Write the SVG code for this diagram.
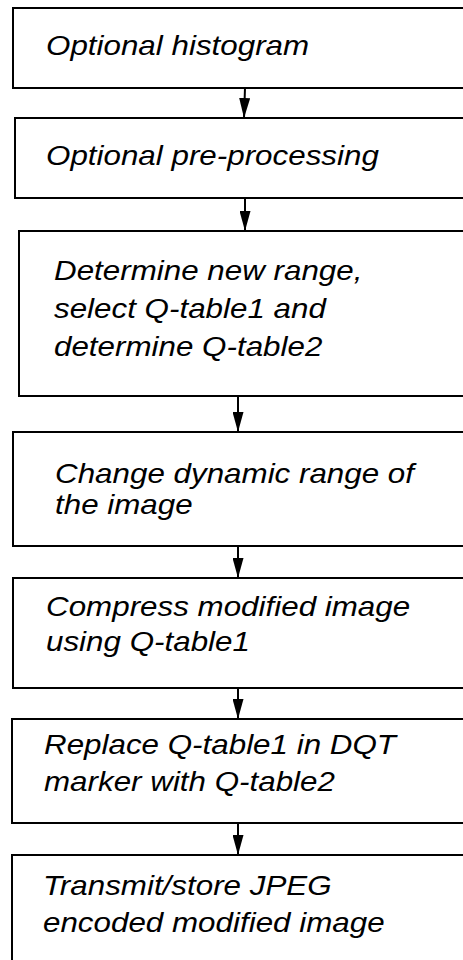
<svg xmlns="http://www.w3.org/2000/svg" width="463" height="960" viewBox="0 0 463 960">
<defs>
<style>
.box{fill:#fff;stroke:#000;stroke-width:2}
.t{font-family:"Liberation Sans",Arial,sans-serif;font-style:italic;font-size:28px;fill:#000}
.c{stroke:#000;stroke-width:2;fill:none}
</style>
<marker id="ah" markerUnits="userSpaceOnUse" markerWidth="20" markerHeight="11" refX="20" refY="5.5" orient="auto" viewBox="0 0 20 11">
<path d="M0,0 L20,5.5 L0,11 Z" fill="#000"/>
</marker>
</defs>
<rect width="463" height="960" fill="#fff"/>
<g id="n1"><rect class="box" x="13" y="8" width="470" height="80"/>
<text class="t" transform="translate(46,55) scale(1.12,1)">Optional histogram</text></g>
<g id="n2"><rect class="box" x="15" y="118" width="470" height="80"/>
<text class="t" transform="translate(46,165) scale(1.12,1)">Optional pre-processing</text></g>
<g id="n3"><rect class="box" x="19" y="231" width="470" height="165"/>
<text class="t" transform="translate(54,280) scale(1.12,1)">Determine new range,</text>
<text class="t" transform="translate(54,318) scale(1.12,1)">select Q-table1 and</text>
<text class="t" transform="translate(54,356) scale(1.12,1)">determine Q-table2</text></g>
<g id="n4"><rect class="box" x="13" y="432" width="470" height="114"/>
<text class="t" transform="translate(55,483) scale(1.12,1)">Change dynamic range of</text>
<text class="t" transform="translate(55,514) scale(1.12,1)">the image</text></g>
<g id="n5"><rect class="box" x="13" y="578" width="470" height="110"/>
<text class="t" transform="translate(46,616) scale(1.12,1)">Compress modified image</text>
<text class="t" transform="translate(46,651) scale(1.12,1)">using Q-table1</text></g>
<g id="n6"><rect class="box" x="12" y="719" width="470" height="104"/>
<text class="t" transform="translate(44,754) scale(1.12,1)">Replace Q-table1 in DQT</text>
<text class="t" transform="translate(44,791) scale(1.12,1)">marker with Q-table2</text></g>
<g id="n7"><rect class="box" x="12" y="855" width="470" height="120"/>
<text class="t" transform="translate(43,895) scale(1.12,1)">Transmit/store JPEG</text>
<text class="t" transform="translate(43,932) scale(1.12,1)">encoded modified image</text></g>
<g id="connectors">
<line class="c" x1="245" y1="88" x2="244" y2="118" marker-end="url(#ah)"/>
<line class="c" x1="245" y1="198" x2="245" y2="231" marker-end="url(#ah)"/>
<line class="c" x1="238" y1="396" x2="238" y2="432" marker-end="url(#ah)"/>
<line class="c" x1="238" y1="546" x2="238" y2="578" marker-end="url(#ah)"/>
<line class="c" x1="238" y1="688" x2="238" y2="719" marker-end="url(#ah)"/>
<line class="c" x1="238" y1="823" x2="238" y2="855" marker-end="url(#ah)"/>
</g>
</svg>
